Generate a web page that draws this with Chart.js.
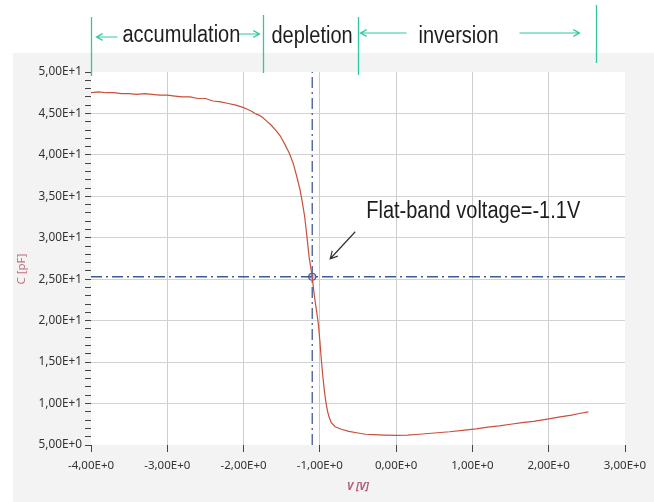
<!DOCTYPE html>
<html>
<head>
<meta charset="utf-8">
<script src="https://cdn.jsdelivr.net/npm/chart.js@4/dist/chart.umd.min.js"></script>
<style>
  body { margin: 0; background: #ffffff; }
  #wrap { width: 654px; height: 502px; }
</style>
</head>
<body>
<div id="wrap"><canvas id="cvChart" width="654" height="502"></canvas></div>
<script>
// measured C-V curve
const voltage = [
  -4.00, -3.90, -3.80, -3.70, -3.60, -3.50, -3.40, -3.30, -3.20, -3.10,
  -3.00, -2.90, -2.80, -2.70, -2.60, -2.50, -2.40, -2.30, -2.20, -2.10,
  -2.00, -1.95, -1.90, -1.85, -1.80, -1.76, -1.70, -1.64, -1.58, -1.52,
  -1.46, -1.40, -1.35, -1.30, -1.26, -1.23, -1.20, -1.17, -1.14, -1.10,
  -1.08, -1.06, -1.04, -1.02, -1.00, -0.98, -0.96, -0.94, -0.92, -0.90,
  -0.88, -0.85, -0.80, -0.72, -0.62, -0.50, -0.40, -0.30, -0.15, 0.00,
  0.15, 0.30, 0.50, 0.70, 0.90, 1.05, 1.20, 1.35, 1.50, 1.65,
  1.80, 2.00, 2.15, 2.30, 2.40, 2.52
];
const capacitance = [
  47.5, 47.6, 47.5, 47.5, 47.4, 47.4, 47.3, 47.4, 47.3, 47.2,
  47.2, 47.1, 47.0, 47.0, 46.8, 46.8, 46.5, 46.4, 46.2, 46.0,
  45.7, 45.5, 45.3, 45.0, 44.8, 44.6, 44.1, 43.6, 43.0, 42.3,
  41.3, 40.2, 39.0, 37.3, 35.8, 34.3, 32.6, 30.2, 27.6, 25.3,
  23.6, 22.2, 21.0, 19.6, 17.6, 15.2, 13.2, 11.5, 10.1, 9.1,
  8.4, 7.7, 7.2, 6.9, 6.65, 6.45, 6.3, 6.25, 6.2, 6.15,
  6.2, 6.3, 6.45, 6.6, 6.8, 6.95, 7.15, 7.3, 7.5, 7.7,
  7.85, 8.15, 8.4, 8.6, 8.8, 9.0
];

// flat-band point
const flatBandV = [-1.1];
const flatBandC = [25.3];

// axis ranges and ticks
const xRange = [-4, 3];
const yRange = [5, 50];
const xStep = 1;
const yMajorStep = 5;
const yMinorStep = 1;

// regions above the chart
const regionBounds = [-4.0, -1.75, -0.5, 2.62];
const regionNames = ["accumulation", "depletion", "inversion"];
const flatBandLabel = "Flat-band voltage=-1.1V";

function sciLabel(v) {
  return Number(v).toExponential(2).replace(".", ",").replace("e", "E");
}

const curveData = voltage.map((v, i) => ({ x: v, y: capacitance[i] }));
const hLine = [{ x: xRange[0], y: flatBandC[0] }, { x: xRange[1], y: flatBandC[0] }];
const vLine = [{ x: flatBandV[0], y: yRange[0] }, { x: flatBandV[0], y: yRange[1] }];
const fbPoint = [{ x: flatBandV[0], y: flatBandC[0] }];

const teal = "#33c6a3";

const backgroundPlugin = {
  id: "bgPanel",
  beforeDraw(chart) {
    const ctx = chart.ctx;
    const a = chart.chartArea;
    ctx.save();
    ctx.fillStyle = "#ffffff";
    ctx.fillRect(0, 0, chart.width, chart.height);
    ctx.fillStyle = "#f3f3f3";
    ctx.fillRect(13, 53, chart.width - 13, chart.height - 53);
    ctx.fillStyle = "#ffffff";
    ctx.fillRect(a.left, a.top, a.right - a.left, a.bottom - a.top);
    ctx.restore();
  }
};

function drawArrow(ctx, x1, y1, x2, y2, head) {
  const ang = Math.atan2(y2 - y1, x2 - x1);
  ctx.beginPath();
  ctx.moveTo(x1, y1);
  ctx.lineTo(x2, y2);
  ctx.moveTo(x2 - head * Math.cos(ang - 0.5), y2 - head * Math.sin(ang - 0.5));
  ctx.lineTo(x2, y2);
  ctx.lineTo(x2 - head * Math.cos(ang + 0.5), y2 - head * Math.sin(ang + 0.5));
  ctx.stroke();
}

function stretchedText(ctx, text, x, y) {
  ctx.save();
  ctx.translate(x, y);
  ctx.scale(1, 1.15);
  ctx.fillText(text, 0, 0);
  ctx.restore();
}

const annotationPlugin = {
  id: "regions",
  afterDraw(chart) {
    const ctx = chart.ctx;
    const xs = chart.scales.x;
    const ys = chart.scales.y;
    const px = regionBounds.map(v => Math.round(xs.getPixelForValue(v)) + 0.5);
    const tops = [17, 15, 17, 5];
    const bottoms = [76, 73, 75, 63];

    ctx.save();
    ctx.strokeStyle = teal;
    ctx.lineWidth = 1.3;
    px.forEach((x, i) => {
      ctx.beginPath();
      ctx.moveTo(x, tops[i]);
      ctx.lineTo(x, bottoms[i]);
      ctx.stroke();
    });

    // arrows between the region lines
    ctx.lineWidth = 1.2;
    drawArrow(ctx, px[0] + 26, 37, px[0] + 5, 37, 7);
    drawArrow(ctx, px[1] - 25, 34, px[1] - 4, 34, 7);
    drawArrow(ctx, px[2] + 48, 33, px[2] + 2, 33, 7);
    drawArrow(ctx, px[2] + 161, 33, px[2] + 221, 33, 7);

    ctx.fillStyle = "#1e1e1e";
    ctx.font = "20px 'Liberation Sans', Arial, sans-serif";
    ctx.textBaseline = "alphabetic";
    ctx.textAlign = "left";
    stretchedText(ctx, regionNames[0], px[0] + 31, 42);
    stretchedText(ctx, regionNames[1], px[1] + 8, 43);
    stretchedText(ctx, regionNames[2], px[2] + 60, 43);

    // flat-band label and pointer
    const mx = xs.getPixelForValue(flatBandV[0]);
    const my = ys.getPixelForValue(flatBandC[0]);
    stretchedText(ctx, flatBandLabel, mx + 54, my - 59);
    ctx.strokeStyle = "#333333";
    ctx.lineWidth = 1.2;
    drawArrow(ctx, mx + 43, my - 45, mx + 18, my - 18, 8);
    ctx.restore();
  }
};

const config = {
  type: "line",
  data: {
    datasets: [
      {
        label: "C",
        data: curveData,
        borderColor: "#c9503a",
        borderWidth: 1.2,
        pointRadius: 0,
        tension: 0
      },
      {
        label: "Vfb",
        data: vLine,
        borderColor: "#3d5a98",
        borderWidth: 1.3,
        borderDash: [11, 4, 2, 4],
        pointRadius: 0
      },
      {
        label: "Cfb",
        data: hLine,
        borderColor: "#3d5a98",
        borderWidth: 1.3,
        borderDash: [11, 4, 2, 4],
        pointRadius: 0
      },
      {
        label: "flat-band",
        data: fbPoint,
        showLine: false,
        pointRadius: 3.5,
        pointBorderWidth: 1.2,
        pointBorderColor: "#4b5aa8",
        pointBackgroundColor: "rgba(190,200,235,0.9)"
      }
    ]
  },
  options: {
    responsive: false,
    animation: false,
    layout: { padding: { top: 72, right: 29, left: 0, bottom: 0 } },
    plugins: {
      legend: { display: false },
      tooltip: { enabled: false }
    },
    scales: {
      x: {
        type: "linear",
        min: xRange[0],
        max: xRange[1],
        border: { display: false },
        grid: {
          color: (c) => (c.tick && (c.tick.value === xRange[0] || c.tick.value === xRange[1])) ? "rgba(0,0,0,0)" : "#cdcdcd",
          tickColor: "#444444",
          tickLength: 7
        },
        ticks: {
          stepSize: xStep,
          autoSkip: false,
          maxRotation: 0,
          padding: 7,
          color: "#333333",
          font: { family: "'Noto Sans', sans-serif", size: 11.5 },
          callback: (v) => sciLabel(v)
        },
        title: {
          display: true,
          text: "V [V]",
          color: "#b55a74",
          font: { family: "'Noto Sans', sans-serif", size: 10.5, style: "italic", weight: "bold" },
          padding: { top: 0, bottom: 9 }
        },
        afterFit: (scale) => { scale.height = 57; }
      },
      y: {
        min: yRange[0],
        max: yRange[1],
        border: { display: false },
        grid: {
          color: (c) => {
            if (!c.tick) return "rgba(0,0,0,0)";
            const v = c.tick.value;
            if (v === yRange[0] || v === yRange[1]) return "rgba(0,0,0,0)";
            return v % yMajorStep === 0 ? "#d2d2d2" : "rgba(0,0,0,0)";
          },
          tickColor: "#444444",
          tickLength: 6
        },
        ticks: {
          stepSize: yMinorStep,
          autoSkip: false,
          padding: 3,
          color: "#333333",
          font: { family: "'Noto Sans', sans-serif", size: 11.8 },
          callback: (v) => (v % yMajorStep === 0 ? sciLabel(v) : "")
        },
        title: {
          display: true,
          text: "C [pF]\u00a0\u00a0\u00a0\u00a0\u00a0\u00a0\u00a0",
          color: "#c27080",
          font: { family: "'Noto Sans', sans-serif", size: 11.5 },
          padding: { top: 15, bottom: 0 }
        },
        afterFit: (scale) => { scale.width = 91; }
      }
    }
  },
  plugins: [backgroundPlugin, annotationPlugin]
};

const myChart = new Chart(document.getElementById("cvChart"), config);
</script>
</body>
</html>
